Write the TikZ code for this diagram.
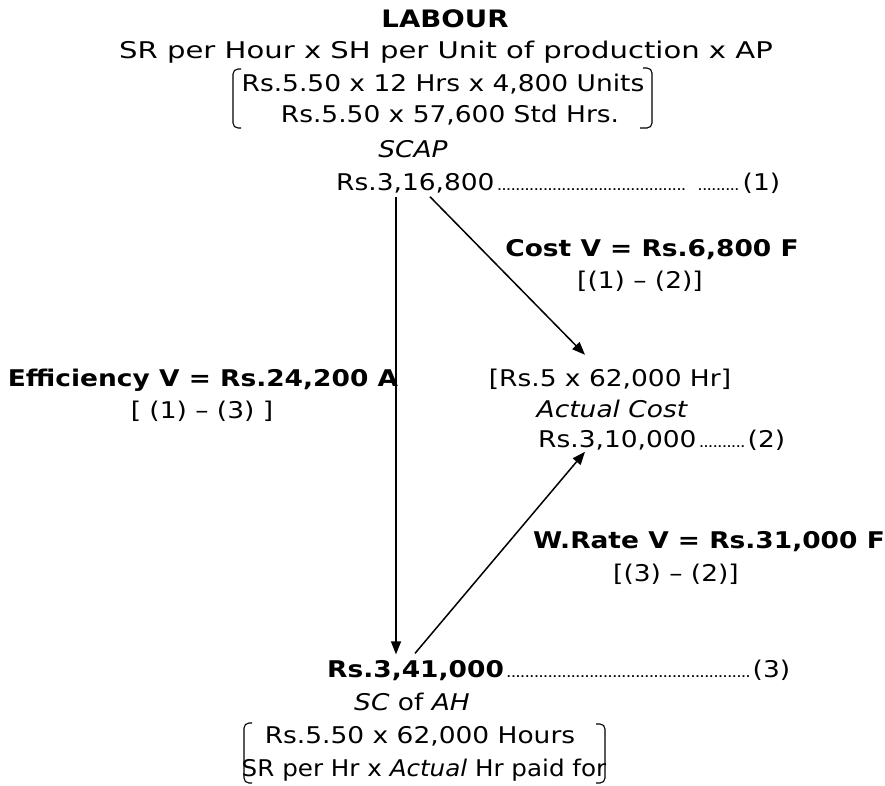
\documentclass[tikz,border=0pt]{standalone}
\usepackage{fontspec}
\setmainfont[FakeStretch=1.15]{DejaVu Sans}
\usetikzlibrary{arrows.meta}
\newcommand\dotrun{\leaders\hbox to 4.6pt{\hss{\fontsize{15pt}{15pt}\selectfont .}\hss}\hfill}
\begin{document}
\begin{tikzpicture}[x=1pt,y=-1pt,
  txt/.style={inner sep=0pt, anchor=base, font=\fontsize{23pt}{27pt}\selectfont},
  bld/.style={inner sep=0pt, anchor=base, font=\fontsize{23pt}{27pt}\selectfont\bfseries},
  itx/.style={inner sep=0pt, anchor=base, font=\fontsize{23pt}{27pt}\selectfont\itshape},
  arr/.style={line width=1.5pt, -{Triangle[length=13pt,width=10pt]}},
  brk/.style={line width=1.1pt, rounded corners=5pt}]
\useasboundingbox (0,0) rectangle (885,785);

% header
\node[bld] (title) at (445,27) {\fontsize{24pt}{27pt}\selectfont LABOUR};
\node[txt] (f1) at (446,58) {\scalebox{1.1}[1]{SR per Hour x SH per Unit of production x AP}};
\node[txt] (f2) at (443,91) {Rs.5.50 x 12 Hrs x 4,800 Units};
\node[txt] (f3) at (450,122) {Rs.5.50 x 57,600 Std Hrs.};
\draw[brk] (241,69) -- (233,69) -- (233,128) -- (241,128);
\draw[brk] (643,68) -- (652,68) -- (652,128) -- (640,128);

% (1)
\node[itx] (scap) at (413,157) {SCAP};
\node[txt, anchor=base west] (v1) at (336,190)
  {\hbox to 444pt{Rs.3,16,800\dotrun\hspace{9pt}\hbox to 45pt{\dotrun}(1)}};

% cost variance
\node[bld] (cv) at (652,256) {Cost V = Rs.6,800 F};
\node[txt] (cv2) at (640,288) {[(1) – (2)]};

% efficiency variance
\node[bld] (ev) at (203,386) {Efficiency V = Rs.24,200 A};
\node[txt] (ev2) at (202,418) {[ (1) – (3) ]};

% (2)
\node[txt] (hr) at (610,386) {[Rs.5 x 62,000 Hr]};
\node[itx] (ac) at (612,417) {Actual Cost};
\node[txt, anchor=base west] (v2) at (538,447)
  {\hbox to 247pt{Rs.3,10,000\dotrun(2)}};

% wage rate variance
\node[bld] (wr) at (709,548) {W.Rate V = Rs.31,000 F};
\node[txt] (wr2) at (676,581) {[(3) – (2)]};

% (3)
\node[txt, anchor=base west] (v3) at (327,677)
  {\hbox to 463pt{\bfseries Rs.3,41,000\mdseries\dotrun(3)}};
\node[txt] (sc) at (412,710) {\itshape SC \upshape of \itshape AH};
\node[txt] (b1) at (420,743) {Rs.5.50 x 62,000 Hours};
\node[txt] (b2) at (424,776) {\scalebox{0.93}[1]{SR per Hr x \textit{Actual} Hr paid for}};
\draw[brk] (252,723) -- (244,723) -- (244,783) -- (252,783);
\draw[brk] (596,724) -- (605,724) -- (605,783) -- (596,783);

% arrows
\draw[arr] ([xshift=60pt,yshift=-3.5pt]v1.south west) -- ([xshift=69pt,yshift=5pt]v3.north west);
\draw[arr] ([xshift=94pt,yshift=-3.5pt]v1.south west) -- ([xshift=-25pt,yshift=13.5pt]hr.north);
\draw[arr] ([xshift=88pt,yshift=6pt]v3.north west) -- ([xshift=47pt,yshift=-1.5pt]v2.south west);
\end{tikzpicture}
\end{document}
